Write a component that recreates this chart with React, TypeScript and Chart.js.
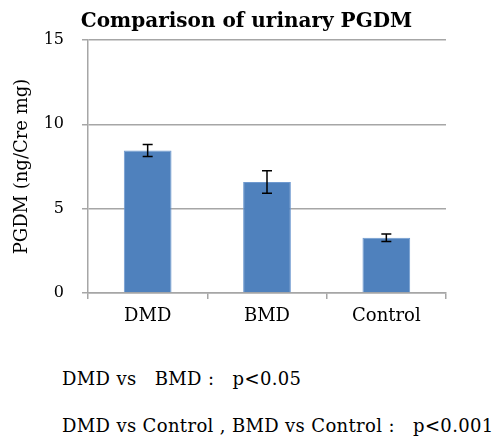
import React, { useEffect, useRef } from "react";
import { Chart, registerables } from "chart.js";

Chart.register(...registerables);

const categories = ["DMD", "BMD", "Control"];
const means = [8.45, 6.58, 3.28];
const errors = [0.36, 0.67, 0.22];
const yTicks = [0, 5, 10, 15];
const titleText = "Comparison of urinary PGDM";
const yTitle = "PGDM (ng/Cre mg)";
const noteLines = ["DMD vs   BMD :   p<0.05", "DMD vs Control , BMD vs Control :   p<0.001"];

const FONT = "'DejaVu Serif', serif";

const errorBarPlugin = {
  id: "errorBars",
  afterDatasetsDraw(chart: any) {
    const ctx = chart.ctx;
    const meta = chart.getDatasetMeta(0);
    const y = chart.scales.y;
    ctx.save();
    ctx.strokeStyle = "#000000";
    ctx.lineWidth = 1.5;
    meta.data.forEach((bar: any, i: number) => {
      const x = bar.x;
      const top = y.getPixelForValue(means[i] + errors[i]);
      const bot = y.getPixelForValue(means[i] - errors[i]);
      const cap = 5;
      ctx.beginPath();
      ctx.moveTo(x, top);
      ctx.lineTo(x, bot);
      ctx.moveTo(x - cap, top);
      ctx.lineTo(x + cap, top);
      ctx.moveTo(x - cap, bot);
      ctx.lineTo(x + cap, bot);
      ctx.stroke();
    });
    ctx.restore();
  },
};

export default function App() {
  const ref = useRef<HTMLCanvasElement>(null);
  useEffect(() => {
    if (!ref.current) return;
    const chart = new Chart(ref.current, {
      type: "bar",
      data: {
        labels: categories,
        datasets: [
          {
            data: means,
            backgroundColor: "#4F81BD",
            borderColor: "#6F9AD0",
            borderWidth: 1,
            categoryPercentage: 1,
            barPercentage: 0.4,
          },
        ],
      },
      plugins: [errorBarPlugin],
      options: {
        animation: false,
        responsive: false,
        layout: { padding: { left: 0, right: 50, top: 40, bottom: 0 } },
        plugins: {
          legend: { display: false },
          tooltip: { enabled: false },
        },
        scales: {
          x: {
            grid: {
              display: true,
              drawOnChartArea: false,
              drawTicks: true,
              tickLength: 6,
              color: "#A6A6A6",
              lineWidth: 1.5,
            },
            border: { display: true, color: "#A6A6A6", width: 1.5 },
            ticks: {
              color: "#000",
              font: { family: FONT, size: 18 },
              padding: 7,
            },
            afterFit(scale: any) {
              scale.height = 47;
            },
          },
          y: {
            min: 0,
            max: 15,
            afterBuildTicks(scale: any) {
              scale.ticks = yTicks.map((v) => ({ value: v }));
            },
            grid: {
              color: "#A6A6A6",
              lineWidth: 1.5,
              tickLength: 6,
            },
            border: { display: true, color: "#A6A6A6", width: 1.5 },
            ticks: {
              color: "#000",
              font: { family: FONT, size: 16 },
              padding: 18,
            },
            title: {
              display: true,
              text: yTitle,
              color: "#000",
              font: { family: FONT, size: 18 },
              padding: { top: 12, bottom: 0 },
            },
            afterFit(scale: any) {
              scale.width = 88;
            },
          },
        },
      },
    });
    return () => chart.destroy();
  }, []);

  return (
    <div style={{ position: "absolute", left: 0, top: 0, width: 496, height: 438, background: "#fff" }}>
      <canvas ref={ref} width={496} height={340} style={{ position: "absolute", left: 0, top: 0 }} />
      <div
        style={{
          position: "absolute",
          left: 0,
          width: 493,
          top: 8,
          textAlign: "center",
          fontFamily: FONT,
          fontWeight: "bold",
          fontSize: 20,
          lineHeight: "24px",
          whiteSpace: "pre",
          color: "#000",
        }}
      >
        {titleText}
      </div>
      {noteLines.map((t, i) => (
        <div
          key={i}
          style={{
            position: "absolute",
            left: 62,
            top: 367 + i * 47,
            fontFamily: FONT,
            fontSize: 18,
            letterSpacing: "0.35px",
            lineHeight: "24px",
            whiteSpace: "pre",
            color: "#000",
          }}
        >
          {t}
        </div>
      ))}
    </div>
  );
}
